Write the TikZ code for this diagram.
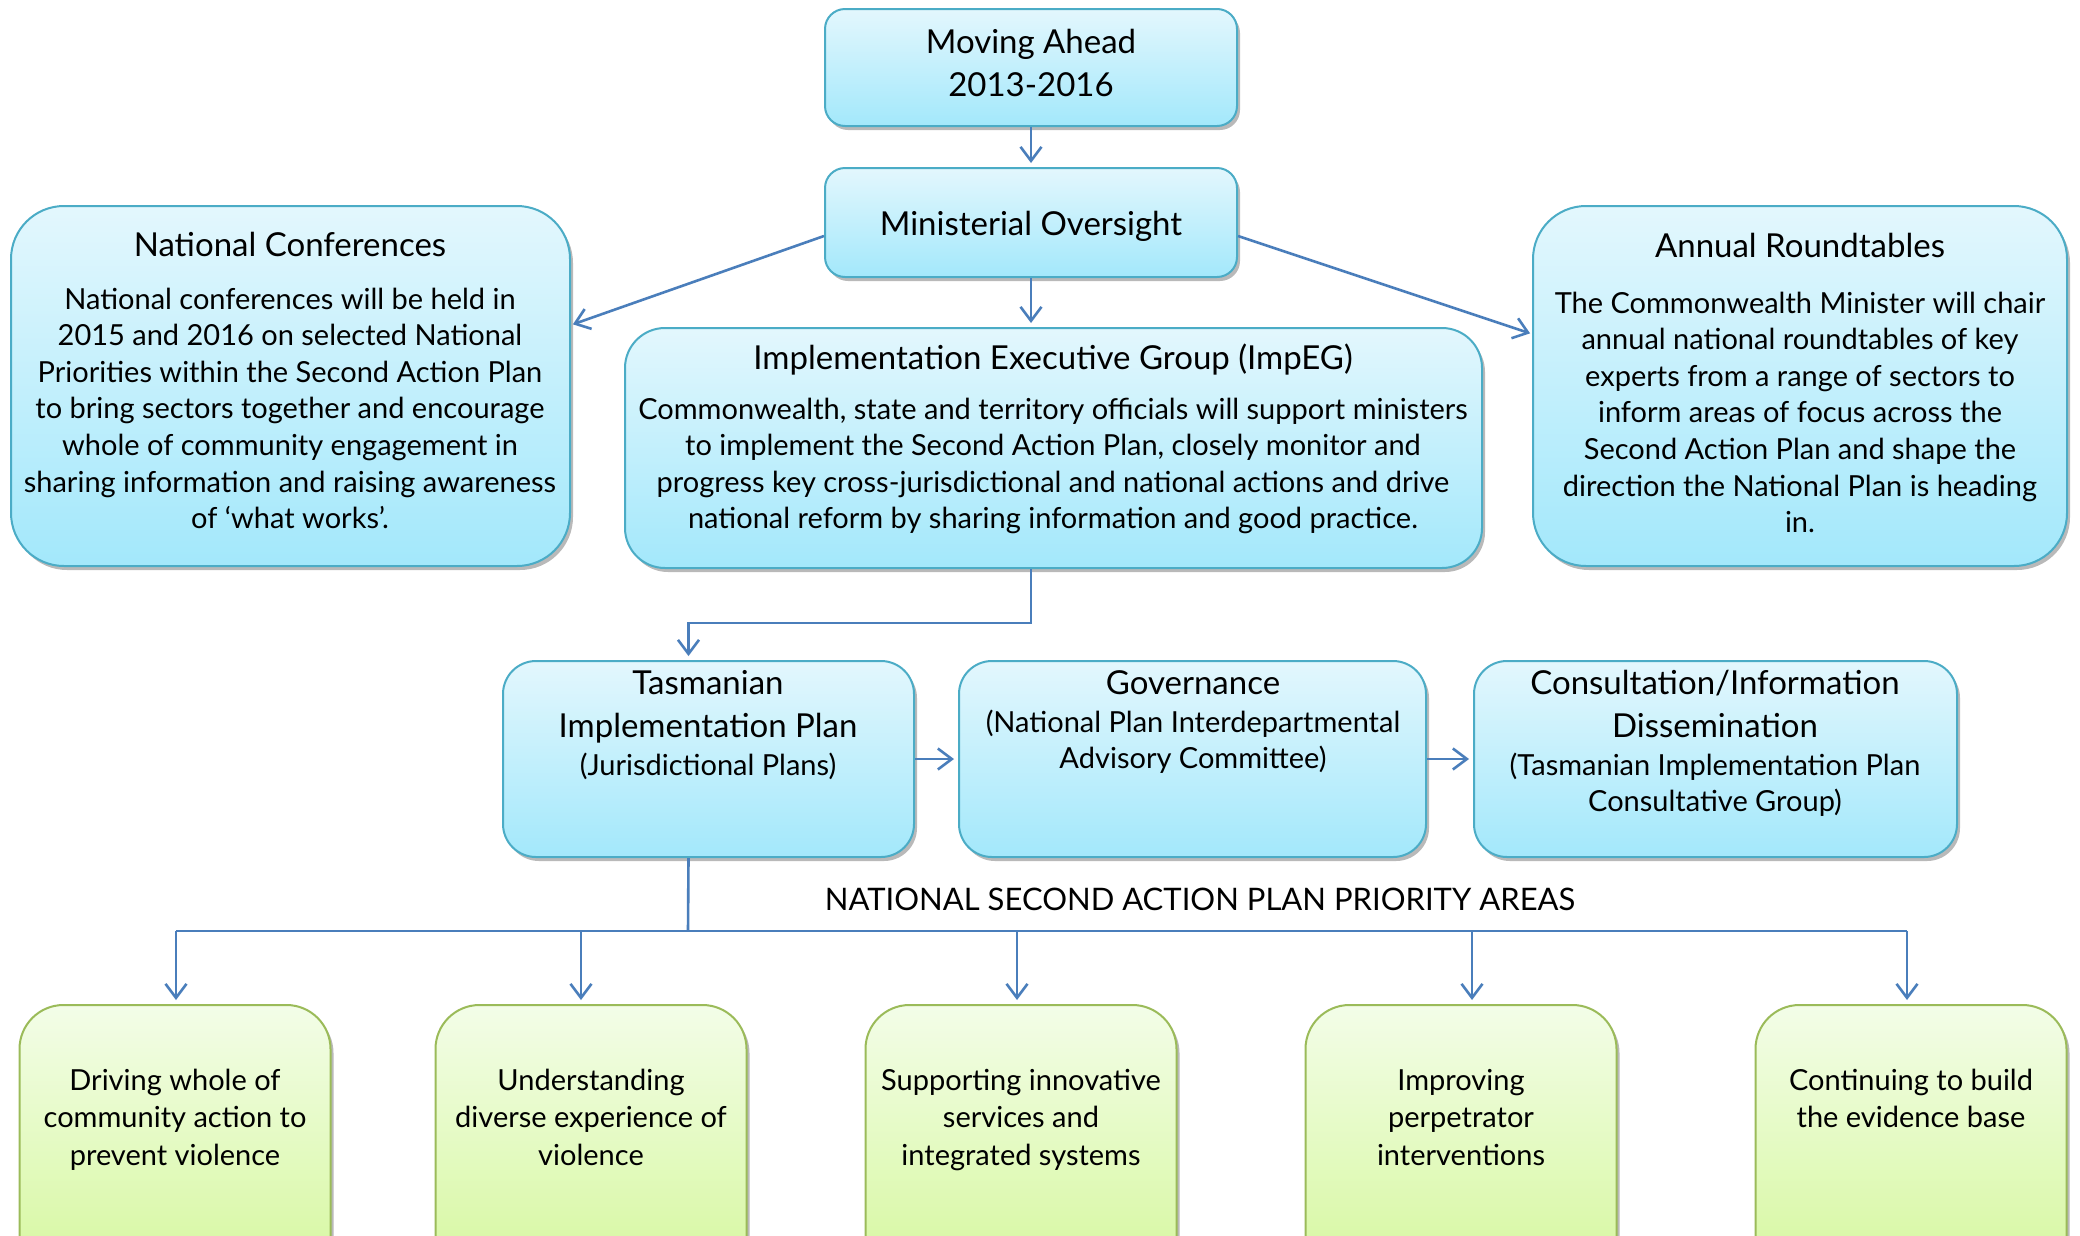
\documentclass[tikz,border=0pt]{standalone}
\usepackage{fontspec}
\setmainfont{Lato}
\usetikzlibrary{arrows.meta,shadows,calc}
\definecolor{bord}{HTML}{4BACC6}
\definecolor{btop}{HTML}{E3F7FD}
\definecolor{bbot}{HTML}{A3E8FB}
\definecolor{gbord}{HTML}{9BBB59}
\definecolor{gtop}{HTML}{F3FDE8}
\definecolor{gbot}{HTML}{D3F797}
\definecolor{arr}{HTML}{4A7EBB}
\begin{document}
\begin{tikzpicture}[x=1pt,y=-1pt,
  shad/.style={drop shadow={shadow xshift=3pt,shadow yshift=-4pt,fill=black!50,opacity=0.55}},
  bluebox/.style={draw=bord,line width=2pt,top color=btop,bottom color=bbot,rounded corners=#1,shad,inner sep=0pt},
  greenbox/.style={draw=gbord,line width=2pt,top color=gtop,bottom color=gbot,rounded corners=44pt,shad,inner sep=0pt,minimum width=311pt,minimum height=300pt},
  hd/.style={font=\fontsize{33}{43.5}\selectfont,align=center,inner sep=0pt,anchor=base},
  bd/.style={font=\fontsize{29}{36.6}\selectfont,align=center,inner sep=0pt,anchor=base},
  gt/.style={font=\fontsize{29}{37.5}\selectfont,align=center,inner sep=0pt,anchor=base},
  line/.style={draw=arr,line width=2.6pt},
  conn/.style={line,-{Straight Barb[length=14pt,width=21pt]},shorten >=4pt}
]
\useasboundingbox (0,0) rectangle (2080,1235);
\fill[white] (0,0) rectangle (2080,1235);
\clip (0,0) rectangle (2080,1235);

% (text nodes are anchored at the baseline of their last line)
% top boxes
\node[bluebox=20pt,minimum width=412pt,minimum height=117pt] (ma) at (1031,67.5) {};
\node[hd] (mat) at (1031,96.5) {Moving Ahead\\2013-2016};
\node[bluebox=20pt,minimum width=412pt,minimum height=109pt] (mo) at (1031,222.5) {};
\node[hd] (mot) at (1031,235) {Ministerial Oversight};

% big boxes
\node[bluebox=53pt,minimum width=559pt,minimum height=360pt] (nc) at (290.5,386) {};
\node[hd] (nch) at (290,256) {National Conferences};
\node[bd] (ncb) at (290,528.6) {National conferences will be held in\\2015 and 2016 on selected National\\Priorities within the Second Action Plan\\to bring sectors together and encourage\\whole of community engagement in\\sharing information and raising awareness\\of ‘what works’.};

\node[bluebox=53pt,minimum width=534pt,minimum height=360pt] (ar) at (1800,386) {};
\node[hd] (arh) at (1800,257) {Annual Roundtables};
\node[bd] (arb) at (1800,532.6) {The Commonwealth Minister will chair\\annual national roundtables of key\\experts from a range of sectors to\\inform areas of focus across the\\Second Action Plan and shape the\\direction the National Plan is heading\\in.};

\node[bluebox=40pt,minimum width=857pt,minimum height=240pt] (ie) at (1053.5,448) {};
\node[hd] (ieh) at (1053,369) {Implementation Executive Group (ImpEG)};
\node[bd] (ieb) at (1053,528.8) {Commonwealth, state and territory officials will support ministers\\to implement the Second Action Plan, closely monitor and\\progress key cross-jurisdictional and national actions and drive\\national reform by sharing information and good practice.};

% middle row
\node[bluebox=33pt,minimum width=411pt,minimum height=196pt] (tp) at (708.5,759) {};
\node[hd] (tph) at (708,737.5) {Tasmanian\\Implementation Plan};
\node[bd] (tpb) at (708,775) {(Jurisdictional Plans)};

\node[bluebox=33pt,minimum width=467pt,minimum height=196pt] (gv) at (1192.5,759) {};
\node[hd] (gvh) at (1193,694) {Governance};
\node[bd] (gvb) at (1193,768.6) {(National Plan Interdepartmental\\Advisory Committee)};

\node[bluebox=33pt,minimum width=483pt,minimum height=196pt] (cs) at (1715.5,759) {};
\node[hd] (csh) at (1715,737.5) {Consultation/Information\\Dissemination};
\node[bd] (csb) at (1715,811.6) {(Tasmanian Implementation Plan\\Consultative Group)};

% label
\node[font=\fontsize{31}{36}\selectfont,inner sep=0pt,anchor=base] (lbl) at (1200,910) {NATIONAL SECOND ACTION PLAN PRIORITY AREAS};

% green boxes
\node[greenbox] (g1) at (175,1155) {};
\node[gt] (g1t) at (175,1165) {Driving whole of\\community action to\\prevent violence};
\node[greenbox] (g2) at (591,1155) {};
\node[gt] (g2t) at (591,1165) {Understanding\\diverse experience of\\violence};
\node[greenbox] (g3) at (1021,1155) {};
\node[gt] (g3t) at (1021,1165) {Supporting innovative\\services and\\integrated systems};
\node[greenbox] (g4) at (1461,1155) {};
\node[gt] (g4t) at (1461,1165) {Improving\\perpetrator\\interventions};
\node[greenbox] (g5) at (1911,1155) {};
\node[gt] (g5t) at (1911,1127.5) {Continuing to build\\the evidence base};

% connectors
\draw[conn] (ma.south) -- (mo.north);
\draw[conn] (mo.south) -- (mo.south |- ie.north);
\draw[conn,shorten >=2pt] ([yshift=-13.5pt]mo.west) -- ([yshift=61pt]nc.east);
\draw[conn,shorten >=2pt] ([yshift=-13.5pt]mo.east) -- ([yshift=52pt]ar.west);
\draw[conn] ([xshift=-22.5pt]ie.south) -- ++(0,54) -| ([xshift=-20pt]tp.north);
\draw[conn] (tp.east) -- (gv.west);
\draw[conn] (gv.east) -- (cs.west);

\coordinate (bus) at (688,931);
\coordinate (d1) at (176,931);
\coordinate (d2) at (581,931);
\coordinate (d3) at (1017,931);
\coordinate (d4) at (1472,931);
\coordinate (d5) at (1907,931);
\draw[line] ([xshift=-20pt]tp.south) -- (bus);
\draw[line] (d1) -- (d5);
\draw[conn] (d1) -- (d1 |- g1.north);
\draw[conn] (d2) -- (d2 |- g2.north);
\draw[conn] (d3) -- (d3 |- g3.north);
\draw[conn] (d4) -- (d4 |- g4.north);
\draw[conn] (d5) -- (d5 |- g5.north);
\end{tikzpicture}
\end{document}
